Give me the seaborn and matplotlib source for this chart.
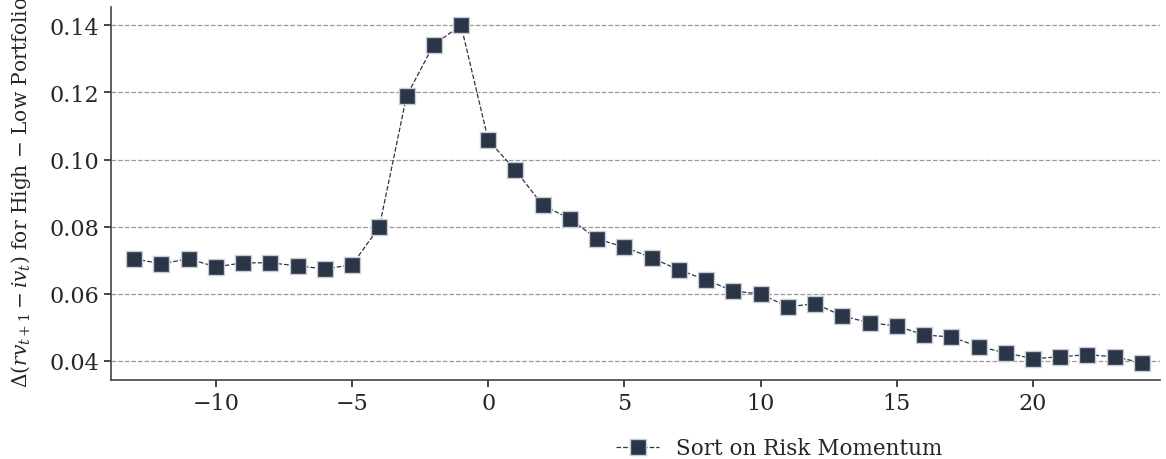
import matplotlib
matplotlib.use("Agg")
import matplotlib.pyplot as plt
import seaborn as sns
import pandas as pd

lags = list(range(-13, 25))
values = [0.0704, 0.0689, 0.0704, 0.0680, 0.0692, 0.0692, 0.0683, 0.0674, 0.0686,
          0.0799, 0.1189, 0.1343, 0.1400, 0.1058, 0.0968, 0.0864, 0.0823, 0.0763,
          0.0739, 0.0707, 0.0671, 0.0641, 0.0608, 0.0599, 0.0561, 0.0570, 0.0534,
          0.0513, 0.0504, 0.0477, 0.0471, 0.0442, 0.0424, 0.0406, 0.0412, 0.0418,
          0.0412, 0.0394]
series_label = "Sort on Risk Momentum"
ylabel = r"$\Delta(rv_{t+1} - iv_t)$ for High $-$ Low Portfolios"
yticks = [0.04, 0.06, 0.08, 0.10, 0.12, 0.14]
xticks = [-10, -5, 0, 5, 10, 15, 20]

df = pd.DataFrame({"lag": lags, "value": values})

sns.set_style("ticks")
plt.rcParams["font.family"] = ["DejaVu Serif"]
plt.rcParams["mathtext.fontset"] = "dejavuserif"

fig = plt.figure(figsize=(11.66, 4.6), dpi=100)
ax = fig.add_axes([0.095, 0.172, 0.9, 0.81])

color = "#2b3548"
sns.lineplot(data=df, x="lag", y="value", ax=ax, color=color, marker="s",
             markersize=11, markeredgecolor="#c8ccd4", markeredgewidth=1.0,
             linestyle="--", linewidth=0.9, label=series_label)

ax.set_xlim(-13.86, 24.67)
ax.set_ylim(0.0343, 0.1454)
ax.set_yticks(yticks)
ax.set_yticklabels([f"{t:.2f}" for t in yticks])
ax.set_xticks(xticks)
ax.set_xticklabels([f"{t}" if t >= 0 else f"\u2212{-t}" for t in xticks])
ax.tick_params(axis="both", labelsize=16, direction="out", length=5, width=1.2)
ax.yaxis.grid(True, linestyle="--", color="#999999", linewidth=0.9)
ax.set_axisbelow(True)
for s in ["top", "right"]:
    ax.spines[s].set_visible(False)
for s in ["left", "bottom"]:
    ax.spines[s].set_linewidth(1.2)
    ax.spines[s].set_color("#444444")
ax.set_xlabel("")
ax.set_ylabel(ylabel, fontsize=14.5)
ax.yaxis.set_label_coords(-0.074, 0.52)

ax.legend(loc="center left", bbox_to_anchor=(0.463, -0.184), frameon=False,
          fontsize=15.5, handlelength=2.0)

fig.savefig("out.png", dpi=100)
